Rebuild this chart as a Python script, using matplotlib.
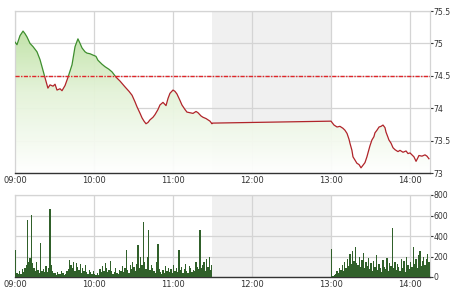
import numpy as np
import matplotlib
matplotlib.use("Agg")
import matplotlib.pyplot as plt
from matplotlib.colors import LinearSegmentedColormap
from matplotlib.patches import Rectangle

# ---------------- data ----------------
# minutes after 09:00
price_minutes = [0, 1.5, 3.8, 6.1, 7.6, 9.1, 11.4, 13.7, 16.7, 19, 20.5, 22.8, 25, 26.6, 28.9, 30.4,
                 31.9, 34.2, 35.7, 38, 40.3, 43.3, 45.6, 47.8, 49.4, 50.9, 53.2, 54.7, 57, 59.2, 61.5,
                 63, 66, 68.4, 71.4, 73.7, 76.7, 79.7, 83.5, 86.6, 88.9, 91.1, 92.7, 95, 96.5, 98, 99.5,
                 101, 102.5, 104.8, 106.3, 108.6, 110.1, 112.4, 114.7, 116.2, 117.7, 120, 121.5, 123,
                 125.3, 126.8, 129.1, 130.6, 132.9, 135.2, 137.5, 139, 141.3, 142.8, 145.1, 146.6,
                 148.1, 149.6, 150,
                 240, 242.3, 244.6, 246.8, 249.1, 250.6, 252.2, 253.7, 254.4, 255.9, 256.7, 258.2,
                 259.7, 261.3, 262.8, 264.3, 265.8, 267.3, 268.1, 269.6, 271.1, 272.6, 273.4, 274.9,
                 276.5, 278, 279.5, 281, 281.8, 283.3, 284, 285.6, 287.1, 288.6, 290.9, 292.4, 294.7,
                 297, 298.5, 300, 301.5, 303, 304.6, 306.1, 306.8, 309.1, 311.4, 312.9, 314.4]
price_values = [75.02, 74.98, 75.12, 75.19, 75.15, 75.10, 75.00, 74.95, 74.87, 74.75, 74.64, 74.47,
                74.31, 74.36, 74.34, 74.37, 74.28, 74.30, 74.27, 74.35, 74.48, 74.67, 74.95, 75.07,
                75.00, 74.93, 74.87, 74.85, 74.84, 74.82, 74.80, 74.74, 74.68, 74.64, 74.60, 74.56,
                74.48, 74.42, 74.33, 74.26, 74.20, 74.10, 74.02, 73.92, 73.85, 73.80, 73.76, 73.78,
                73.82, 73.86, 73.90, 73.98, 74.05, 74.09, 74.04, 74.15, 74.23, 74.28, 74.26, 74.22,
                74.12, 74.05, 73.98, 73.94, 73.93, 73.92, 73.95, 73.93, 73.88, 73.86, 73.84, 73.82,
                73.80, 73.76, 73.77,
                73.80, 73.74, 73.71, 73.72, 73.69, 73.66, 73.61, 73.52, 73.46, 73.35, 73.25, 73.20,
                73.15, 73.13, 73.08, 73.12, 73.16, 73.25, 73.31, 73.42, 73.51, 73.56, 73.62, 73.66,
                73.71, 73.72, 73.74, 73.70, 73.63, 73.55, 73.51, 73.46, 73.39, 73.36, 73.33, 73.35,
                73.32, 73.34, 73.30, 73.31, 73.28, 73.25, 73.18, 73.24, 73.27, 73.26, 73.28, 73.26,
                73.22]
reference_price = 74.5

volume_morning = [260, 40, 25, 60, 30, 80, 45, 90, 120, 556, 150, 185, 605, 140, 90, 60, 150, 70, 40, 332,
                  60, 80, 45, 110, 50, 90, 664, 120, 60, 40,
                  35, 20, 50, 30, 25, 60, 40, 20, 30, 55,
                  80, 166, 120, 90, 150, 60, 140, 100, 70, 130,
                  40, 90, 60, 120, 50, 30, 70, 45, 25, 60,
                  30, 15, 40, 20, 80, 50, 110, 60, 140, 90,
                  50, 70, 160, 60, 30, 45, 90, 40, 25, 70,
                  60, 110, 50, 90, 263, 70, 40, 120, 80, 150,
                  100, 60, 130, 312, 90, 200, 120, 537, 150, 80,
                  200, 459, 70, 120, 90, 60, 40, 150, 322, 80,
                  50, 30, 70, 40, 110, 60, 90, 45, 80, 35,
                  120, 60, 90, 50, 263, 70, 100, 40, 80, 130,
                  60, 40, 110, 90, 50, 70, 60, 150, 100, 80,
                  459, 90, 120, 150, 60, 180, 100, 195, 70, 120]
volume_afternoon = [273, 10, 15, 30, 60, 40, 90, 70, 120, 60,
                    150, 90, 180, 110, 220, 130, 250, 160, 293, 140,
                    120, 200, 100, 170, 230, 90, 150, 110, 190, 80,
                    140, 60, 160, 100, 210, 70, 130, 90, 50, 170,
                    100, 80, 190, 60, 140, 110, 478, 90, 150, 70,
                    130, 100, 60, 180, 90, 160, 50, 200, 120, 80,
                    150, 100, 290, 130, 180, 90, 210, 250, 110, 160,
                    200, 120, 180, 220, 150]
morning_start, afternoon_start = 0, 240
lunch_break = (150, 240)

tick_minutes = [0, 60, 120, 180, 240, 300]
tick_labels = ["09:00", "10:00", "11:00", "12:00", "13:00", "14:00"]
price_ticks = [73, 73.5, 74, 74.5, 75, 75.5]
price_tick_labels = ["73", "73.5", "74", "74.5", "75", "75.5"]
volume_ticks = [0, 200, 400, 600, 800]
volume_tick_labels = ["0", "200", "400", "600", "800"]

# ---------------- plot ----------------
fig = plt.figure(figsize=(4.5, 2.9), dpi=100)
ax = fig.add_axes([15/450, 1-173/290, 415/450, 162/290])
axv = fig.add_axes([15/450, 1-277/290, 415/450, 82/290])

XMAX = 315.2
YMIN, YMAX = 73, 75.5
grid_c = "#d4d4d4"
tick_c = "#333333"

for a in (ax, axv):
    a.set_xlim(0, XMAX)
    a.axvspan(*lunch_break, color="#f0f0f0", zorder=0, lw=0)
    a.set_xticks(tick_minutes)
    a.set_xticklabels(tick_labels)
    a.grid(True, color=grid_c, lw=0.9, zorder=1)
    a.set_axisbelow(True)
    for s in ("left", "top", "right"):
        a.spines[s].set_color(grid_c)
        a.spines[s].set_linewidth(0.9)
    a.spines["bottom"].set_color("#333333")
    a.spines["bottom"].set_linewidth(1.0)
    a.yaxis.tick_right()
    a.tick_params(axis="x", length=0, pad=2, labelsize=6.0, colors=tick_c)
    a.tick_params(axis="y", length=2, width=0.8, pad=0.5, labelsize=5.6, colors=tick_c)

# price
ax.set_ylim(YMIN, YMAX)
ax.set_yticks(price_ticks)
ax.set_yticklabels(price_tick_labels)

pm = np.array(price_minutes)
pv = np.array(price_values)
poly = ax.fill_between(pm, pv, YMIN, color="none", lw=0)
cmap = LinearSegmentedColormap.from_list("g", ["#ffffff", "#e4f3d8", "#b4dc96"])
grad = np.linspace(0, 1, 256).reshape(-1, 1)
im = ax.imshow(grad, extent=[0, XMAX, YMIN, YMAX], origin="lower", aspect="auto",
               cmap=cmap, zorder=2, alpha=0.95)
path = poly.get_paths()[0]
im.set_clip_path(path, transform=ax.transData)

ln_g, = ax.plot(pm, pv, color="#3e8e2e", lw=0.9, zorder=4)
ln_r, = ax.plot(pm, pv, color="#b0242a", lw=0.9, zorder=4)
clip_up = Rectangle((0, reference_price), XMAX, YMAX - reference_price + 1, transform=ax.transData)
clip_dn = Rectangle((0, YMIN - 1), XMAX, reference_price - YMIN + 1, transform=ax.transData)
ln_g.set_clip_path(clip_up)
ln_r.set_clip_path(clip_dn)

ax.axhline(reference_price, color="#e0262a", lw=1.0, ls=(0, (3, 1, 1, 1)), zorder=5)

# volume
axv.set_ylim(0, 800)
axv.set_yticks(volume_ticks)
axv.set_yticklabels(volume_tick_labels)
vm = np.arange(len(volume_morning)) + morning_start
va = np.arange(len(volume_afternoon)) + afternoon_start
axv.bar(vm, volume_morning, width=1.0, color="#30602a", lw=0, align="edge", zorder=3)
axv.bar(va, volume_afternoon, width=1.0, color="#30602a", lw=0, align="edge", zorder=3)

fig.savefig("out.png", dpi=100)
